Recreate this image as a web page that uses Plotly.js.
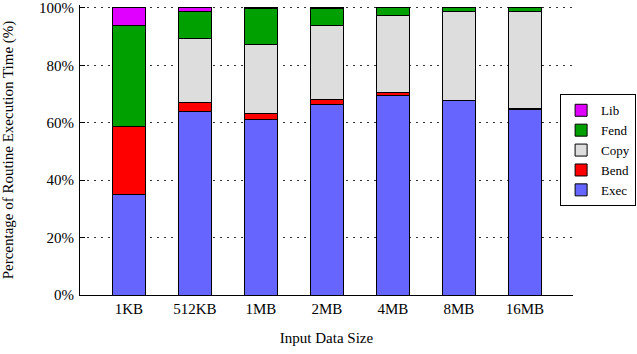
<!DOCTYPE html>
<html><head><meta charset="utf-8">
<script src="https://cdn.plot.ly/plotly-3.0.1.min.js"></script>
<style>html,body{margin:0;padding:0;background:#fff}#c{width:637px;height:354px}</style>
</head><body><div id="c"></div>
<script>
const categories = ["1KB","512KB","1MB","2MB","4MB","8MB","16MB"];
const exec = [35.0, 63.8, 61.1, 66.3, 69.6, 67.6, 64.6];
const bend = [23.7, 3.3, 2.1, 1.8, 1.0, 0.3, 0.3];
const copy = [0.0, 22.1, 23.9, 25.6, 26.6, 31.0, 33.9];
const fend = [35.0, 9.7, 12.6, 6.2, 2.8, 1.1, 1.2];
const lib  = [6.3, 1.1, 0.3, 0.1, 0.0, 0.0, 0.0];
const seriesNames = ["Exec","Bend","Copy","Fend","Lib"];
const seriesColors = ["#6666ff","#ff0000","#dddddd","#00a000","#e000ff"];
const seriesData = [exec, bend, copy, fend, lib];
const yTickVals = [0,20,40,60,80,100];
const yTickText = ["0%","20%","40%","60%","80%","100%"];

const serif = "Liberation Serif, Times New Roman, serif";
const traces = seriesData.map((d,i)=>({
  type:"bar", name:seriesNames[i], x:categories, y:d,
  marker:{color:seriesColors[i], line:{color:"#000", width:1}},
  width:0.5, hoverinfo:"skip"
}));

const layout = {
  width:637, height:354,
  margin:{l:80, r:64, t:5, b:59, autoexpand:false},
  barmode:"stack",
  paper_bgcolor:"#fff", plot_bgcolor:"#fff",
  font:{family:serif, size:15, color:"#000"},
  xaxis:{
    range:[-0.74, 6.73], showline:true, linecolor:"#000", linewidth:1,
    ticks:"", showgrid:false, zeroline:false,
    tickfont:{family:serif, size:15, color:"#000"},
    title:{text:"Input Data Size", font:{family:serif, size:15, color:"#000"}, standoff:16}
  },
  yaxis:{
    range:[0,101], tickvals:yTickVals, ticktext:yTickText,
    showline:true, linecolor:"#000", linewidth:1,
    ticks:"inside", ticklen:5, tickcolor:"#000", ticklabelstandoff:2,
    ticklabeloverflow:"allow",
    showgrid:true, gridcolor:"#333", gridwidth:1, griddash:"2px,5px", zeroline:false,
    tickfont:{family:serif, size:15, color:"#000"},
    title:{text:"Percentage of Routine Execution Time (%)", font:{family:serif, size:15, color:"#000"}, standoff:23}
  },
  legend:{
    x:1.128, xanchor:"right", y:0.692, yanchor:"top",
    traceorder:"reversed", bordercolor:"#000", borderwidth:1, bgcolor:"#fff",
    font:{family:serif, size:13, color:"#000"}, tracegroupgap:0, itemwidth:30
  },
  showlegend:true
};
Plotly.newPlot("c", traces, layout, {displayModeBar:false, staticPlot:true});
</script></body></html>
